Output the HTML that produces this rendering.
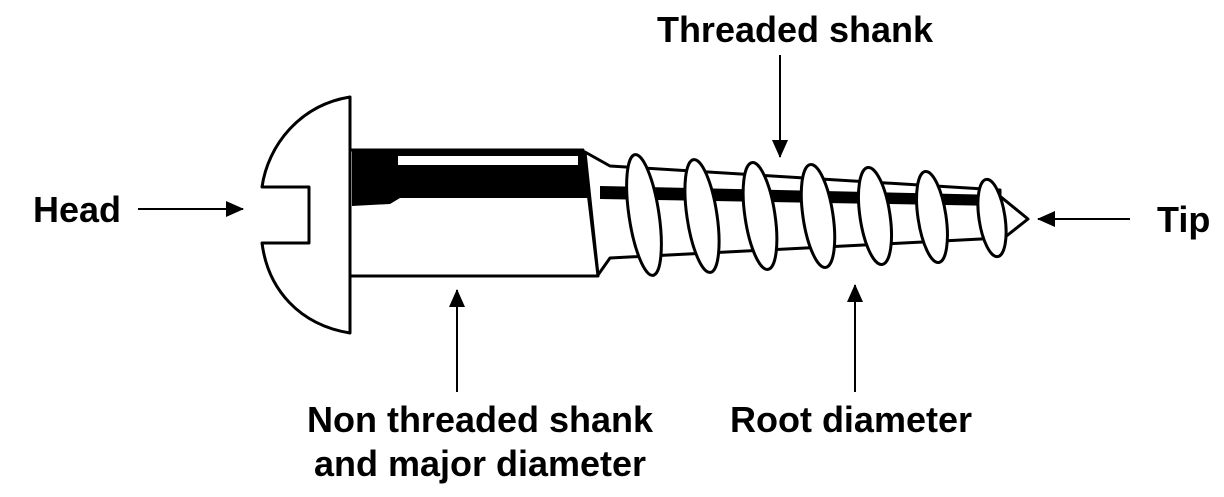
<!DOCTYPE html>
<html><head><meta charset="utf-8"><style>
html,body{margin:0;padding:0;background:#fff;width:1224px;height:497px;overflow:hidden}
svg{display:block}
text{font-family:"Liberation Sans",Arial,sans-serif;font-weight:bold;font-size:36px;fill:#000}
</style></head><body>
<svg width="1224" height="497" viewBox="0 0 1224 497">
<defs><marker id="a" markerWidth="18" markerHeight="16" refX="17" refY="8" orient="auto" markerUnits="userSpaceOnUse"><path d="M0,0 L18,8 L0,16 Z" fill="#000"/></marker></defs>
<g stroke="#000" stroke-width="3" fill="#fff" stroke-linejoin="round">
<!-- core of threaded part -->
<polygon points="585,152 610,166 1000,190 1000,238 610,258 598,275"/>
<polygon points="600,186 1000,195 1000,206 600,199" fill="#000" stroke="none"/>
<!-- tip -->
<polygon points="990,188 1028,219 995,245"/>
<!-- threads -->
<ellipse cx="644" cy="215" rx="15" ry="61" transform="rotate(-8.5 644 215)"/>
<ellipse cx="702" cy="216" rx="15" ry="57" transform="rotate(-8.5 702 216)"/>
<ellipse cx="760" cy="216" rx="15" ry="54" transform="rotate(-8.5 760 216)"/>
<ellipse cx="818" cy="216" rx="15" ry="52" transform="rotate(-8.5 818 216)"/>
<ellipse cx="875" cy="216" rx="15" ry="49" transform="rotate(-8.5 875 216)"/>
<ellipse cx="932" cy="217" rx="14" ry="46" transform="rotate(-8.5 932 217)"/>
<ellipse cx="992" cy="218" rx="13" ry="39" transform="rotate(-8.5 992 218)"/>
<!-- shank -->
<polygon points="350,150 583,150 598,276 350,276"/>
<polygon points="352,151 582,151 588,198 400,198 390,204 352,206" fill="#000" stroke="none"/>
<rect x="398" y="156" width="180" height="9" fill="#fff" stroke="none"/>
<!-- head -->
<path d="M350,97 C300,105 268,145 262,187 L309,187 L309,243 L262,243 C268,290 300,325 350,333 Z"/>
</g>
<g stroke="#000" stroke-width="2" marker-end="url(#a)">
<line x1="138" y1="209" x2="243" y2="209"/>
<line x1="1130" y1="219" x2="1038" y2="219"/>
<line x1="780" y1="55" x2="780" y2="157"/>
<line x1="457" y1="392" x2="457" y2="290"/>
<line x1="855" y1="392" x2="855" y2="285"/>
</g>
<text x="33" y="222">Head</text>
<text x="1157" y="232">Tip</text>
<text x="795" y="42" text-anchor="middle">Threaded shank</text>
<text x="480" y="432" text-anchor="middle">Non threaded shank</text>
<text x="480" y="476" text-anchor="middle">and major diameter</text>
<text x="851" y="432" text-anchor="middle">Root diameter</text>
</svg>
</body></html>
